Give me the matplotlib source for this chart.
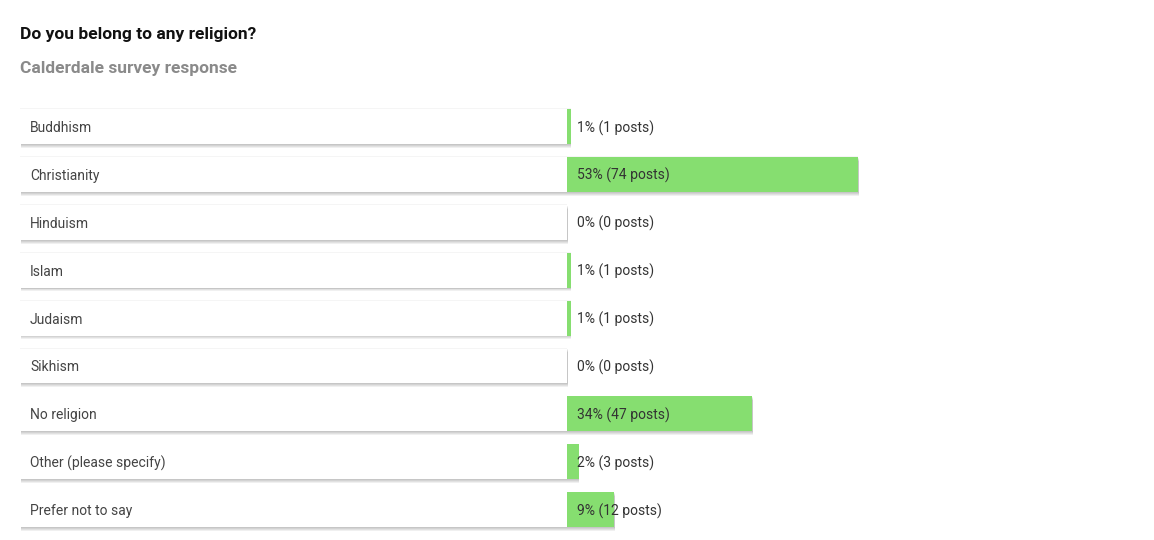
import matplotlib.pyplot as plt
import matplotlib.patheffects as pe

categories = ["Buddhism", "Christianity", "Hinduism", "Islam", "Judaism",
              "Sikhism", "No religion", "Other (please specify)", "Prefer not to say"]
posts = [1, 74, 0, 1, 1, 0, 47, 3, 12]
pct_labels = [1, 53, 0, 1, 1, 0, 34, 2, 9]

total = sum(posts)
shares = [p / total * 100 for p in posts]

plt.rcParams['font.family'] = ['Roboto', 'DejaVu Sans']

W, H = 1154, 540
fig = plt.figure(figsize=(W / 100, H / 100), dpi=100)
fig.patch.set_facecolor("white")

# axes from x=20px to 1114px, rows from 102.5px to 533.7px
left, right = 20, 1114
top, bottom = 102.5, 533.7
ax = fig.add_axes([left / W, 1 - bottom / H, (right - left) / W, (bottom - top) / H])
ax.set_xlim(-100, 100)
ax.set_ylim(len(categories) - 0.5, -0.5)
ax.axis("off")

# soft drop shadow built from a few faint layers
shadow = [pe.SimplePatchShadow(offset=(0.4, -o), shadow_rgbFace="#000000", alpha=0.06)
          for o in (0.6, 1.3, 2.0, 2.7)]
shadow += [pe.SimplePatchShadow(offset=(0, 0.5), shadow_rgbFace="#000000", alpha=0.04), pe.Normal()]
ys = list(range(len(categories)))
boxes = ax.barh(ys, [100] * len(categories), left=-100, height=0.73, color="white",
                edgecolor="none", zorder=2)
for b in boxes:
    b.set_path_effects(shadow)
bars = ax.barh(ys, shares, left=0, height=0.73, color="#86de70", edgecolor="none", zorder=3)
for b, s in zip(bars, shares):
    if s > 0:
        b.set_path_effects(shadow)

px = 200 / (right - left)  # data units per pixel
for y, name, pc, n in zip(ys, categories, pct_labels, posts):
    ax.text(-100 + 10 * px, y + 0.03, name, va="center", ha="left", fontsize=10,
            color="#444444", zorder=4)
    ax.text(10 * px, y + 0.03, f"{pc}% ({n} posts)", va="center", ha="left", fontsize=10,
            color="#333333", zorder=4)

fig.text(20 / W, 1 - 35 / H, "Do you belong to any religion?", fontsize=12.5, fontweight="bold",
         color="#111111", va="center", ha="left")
fig.text(20 / W, 1 - 69 / H, "Calderdale survey response", fontsize=12.5, fontweight="bold",
         color="#8a8a8a", va="center", ha="left")

fig.savefig("out.png", dpi=100, facecolor="white")
